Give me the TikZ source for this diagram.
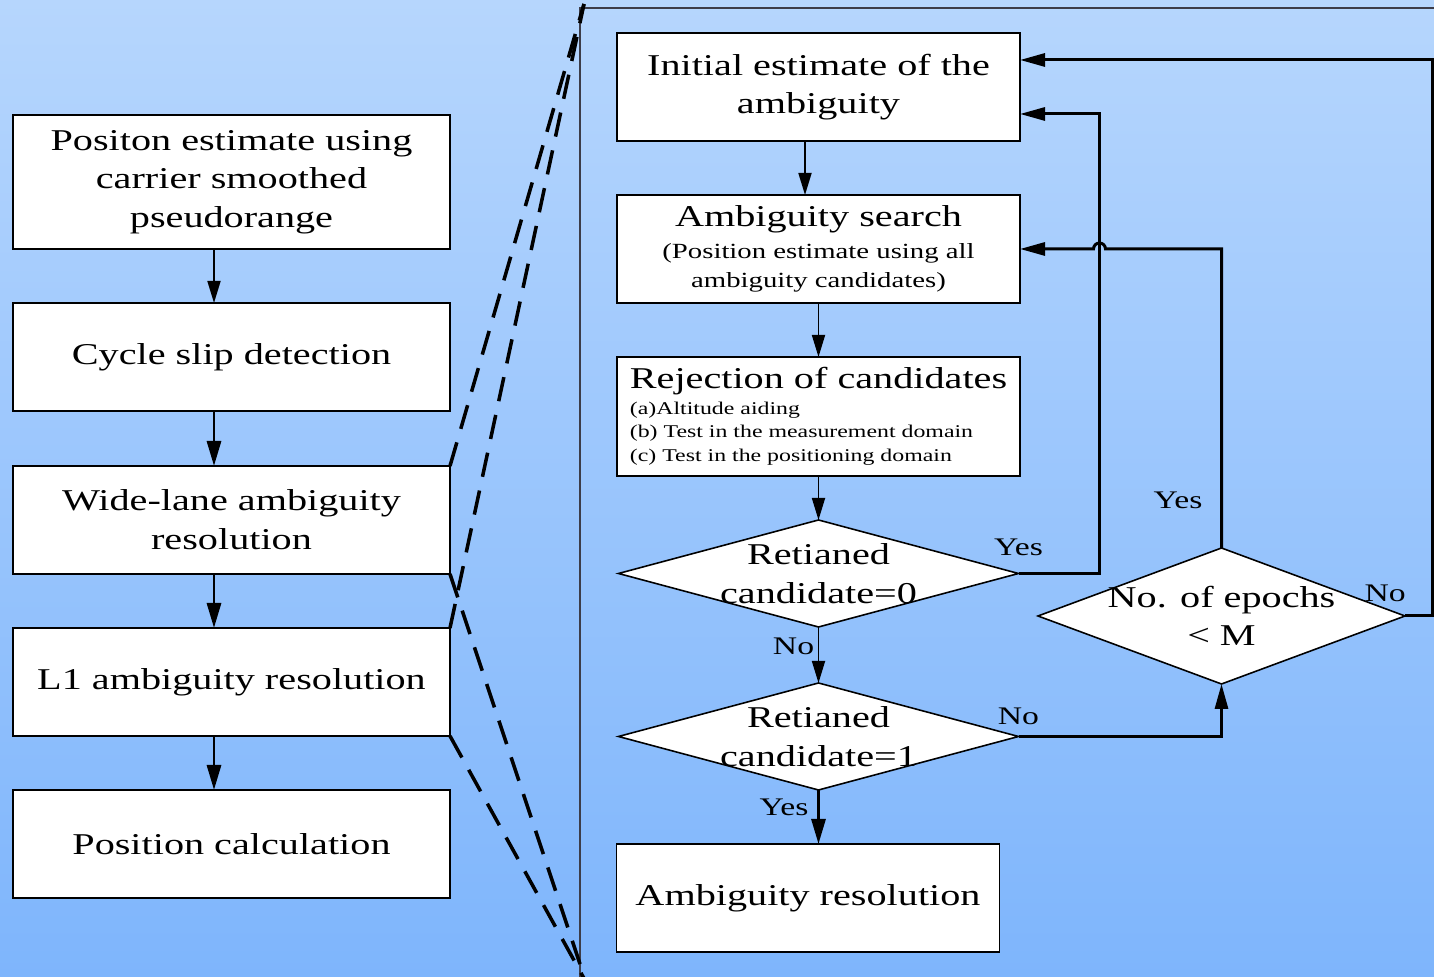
\documentclass[tikz,border=0pt]{standalone}
\usepackage{fontspec}
\setmainfont{Liberation Serif}[FakeStretch=1.33]
\usepackage{tikz}
\usetikzlibrary{arrows.meta,positioning,shapes.geometric,calc}
\definecolor{skytop}{RGB}{182,214,253}
\definecolor{skybottom}{RGB}{126,181,252}
\definecolor{framegray}{RGB}{60,60,72}
\newcommand{\mainsize}{\fontsize{8.6}{11}\selectfont}
\newcommand{\subsize}{\fontsize{6.15}{8.2}\selectfont}
\newcommand{\smallsize}{\fontsize{5.1}{6.7}\selectfont}
\newcommand{\lblsize}{\fontsize{7.2}{8}\selectfont}

\begin{document}
\begin{tikzpicture}[
    box/.style={draw=black, line width=0.45pt, fill=white, align=center, inner sep=0pt, outer sep=0pt, minimum width=4.37cm, minimum height=1.08cm, font=\mainsize},
    rbox/.style={box, minimum width=4.03cm},
    decision/.style={diamond, draw=black, line width=0.45pt, fill=white, inner sep=0pt, outer sep=0pt, minimum width=4.0cm, minimum height=1.07cm},
    dtext/.style={align=center, inner sep=0pt, font=\mainsize},
    lbl/.style={inner sep=1pt, font=\lblsize},
    thinarrow/.style={-{Triangle[length=2.2mm, width=1.3mm]}, line width=0.5pt},
    thickarrow/.style={-{Triangle[length=2.5mm, width=1.4mm]}, line width=0.85pt},
    looparrow/.style={-{Triangle[length=2.5mm, width=1.3mm]}, line width=0.85pt},
    zoomline/.style={line width=1pt, dash pattern=on 7pt off 4pt}
]
\useasboundingbox (0,0) rectangle (14.34,-9.77);
\shade[top color=skytop, bottom color=skybottom] (0,0) rectangle (14.34,-9.77);

% left column
\node[box, minimum height=1.34cm] (b1) at (2.315,-1.82) {Positon estimate using\\carrier smoothed\\pseudorange};
\node[box, below=0.54cm of b1] (b2) {Cycle slip detection};
\node[box, below=0.55cm of b2] (b3) {Wide-lane ambiguity\\resolution};
\node[box, below=0.54cm of b3] (b4) {L1 ambiguity resolution};
\node[box, below=0.54cm of b4] (b5) {Position calculation};

\draw[thinarrow] ([xshift=-1.75mm]b1.south) -- ([xshift=-1.75mm]b2.north);
\foreach \a/\b in {b2/b3, b3/b4, b4/b5}
  \draw[thickarrow] ([xshift=-1.75mm]\a.south) -- ([xshift=-1.75mm]\b.north);

% zoom frame
\draw[framegray, line width=0.5pt] (5.80,-9.77) -- (5.80,-0.08) -- (14.34,-0.08);
\coordinate (apex) at (5.84,-0.04);
\coordinate (base) at (5.86,-9.82);
\draw[zoomline] (b3.north east) -- (apex);
\draw[zoomline] (b4.north east) -- (apex);
\draw[zoomline] (b3.south east) -- (base);
\draw[zoomline] (b4.south east) -- (base);

% right column
\node[rbox] (r1) at (8.185,-0.87) {Initial estimate of the\\ambiguity};
\node[rbox, below=0.54cm of r1] (r2) {Ambiguity search\\[-2pt]\subsize (Position estimate using all\\[-2.8pt]\subsize ambiguity candidates)};
\node[rbox, below=0.54cm of r2, minimum height=1.19cm, align=left] (r3) {Rejection of candidates\\[-3.8pt]\smallsize (a)Altitude aiding\\[-4.3pt]\smallsize (b) Test in the measurement domain\\[-4.3pt]\smallsize (c) Test in the positioning domain};
\node[decision, below=0.44cm of r3, label={[dtext]center:{Retianed\\candidate=0}}] (d1) {};
\node[decision, below=0.56cm of d1, label={[dtext]center:{Retianed\\candidate=1}}] (d2) {};
\node[rbox, below=0.54cm of d2, xshift=-1.05mm, minimum width=3.83cm] (r4) {Ambiguity resolution};
\node[decision, minimum width=3.67cm, minimum height=1.36cm, label={[dtext]center:{No. of epochs\\< M}}] (d3) at (12.215,-6.16) {};

\coordinate[right=0.81cm of d1.east] (jog);
\coordinate[right=0.27cm of d3.east] (rim);

\draw[thinarrow] ([xshift=-1.35mm]r1.south) -- ([xshift=-1.35mm]r2.north);
\draw[thinarrow] (r2.south) -- (r3.north);
\draw[thinarrow] (r3.south) -- (d1.north);
\draw[thinarrow] (d1.south) -- node[lbl, left, pos=0.35] {No} (d2.north);
\draw[thickarrow] (d2.south) -- node[lbl, left, pos=0.32, xshift=-0.05cm] {Yes} (d2.south |- r4.north);

\draw[looparrow] (d1.east) -- (jog) |- ([yshift=-2.7mm]r1.east);
\node[lbl, above=0.14cm of d1.east] {Yes};
\draw[looparrow] (d2.east) -| (d3.south);
\node[lbl, above=0.08cm of d2.east] {No};
\draw[looparrow] (d3.north) -- node[lbl, left, pos=0.16, xshift=-0.14cm] {Yes} (d3.north |- r2.east) -- ([xshift=0.06cm]jog |- r2.east) arc[start angle=0, end angle=180, radius=0.06cm] -- (r2.east);
\draw[looparrow] (d3.east) -- (rim) |- ([yshift=2.7mm]r1.east);
\node[lbl, anchor=south east, xshift=0.05cm, yshift=0.1cm] at (d3.east) {No};
\end{tikzpicture}
\end{document}
